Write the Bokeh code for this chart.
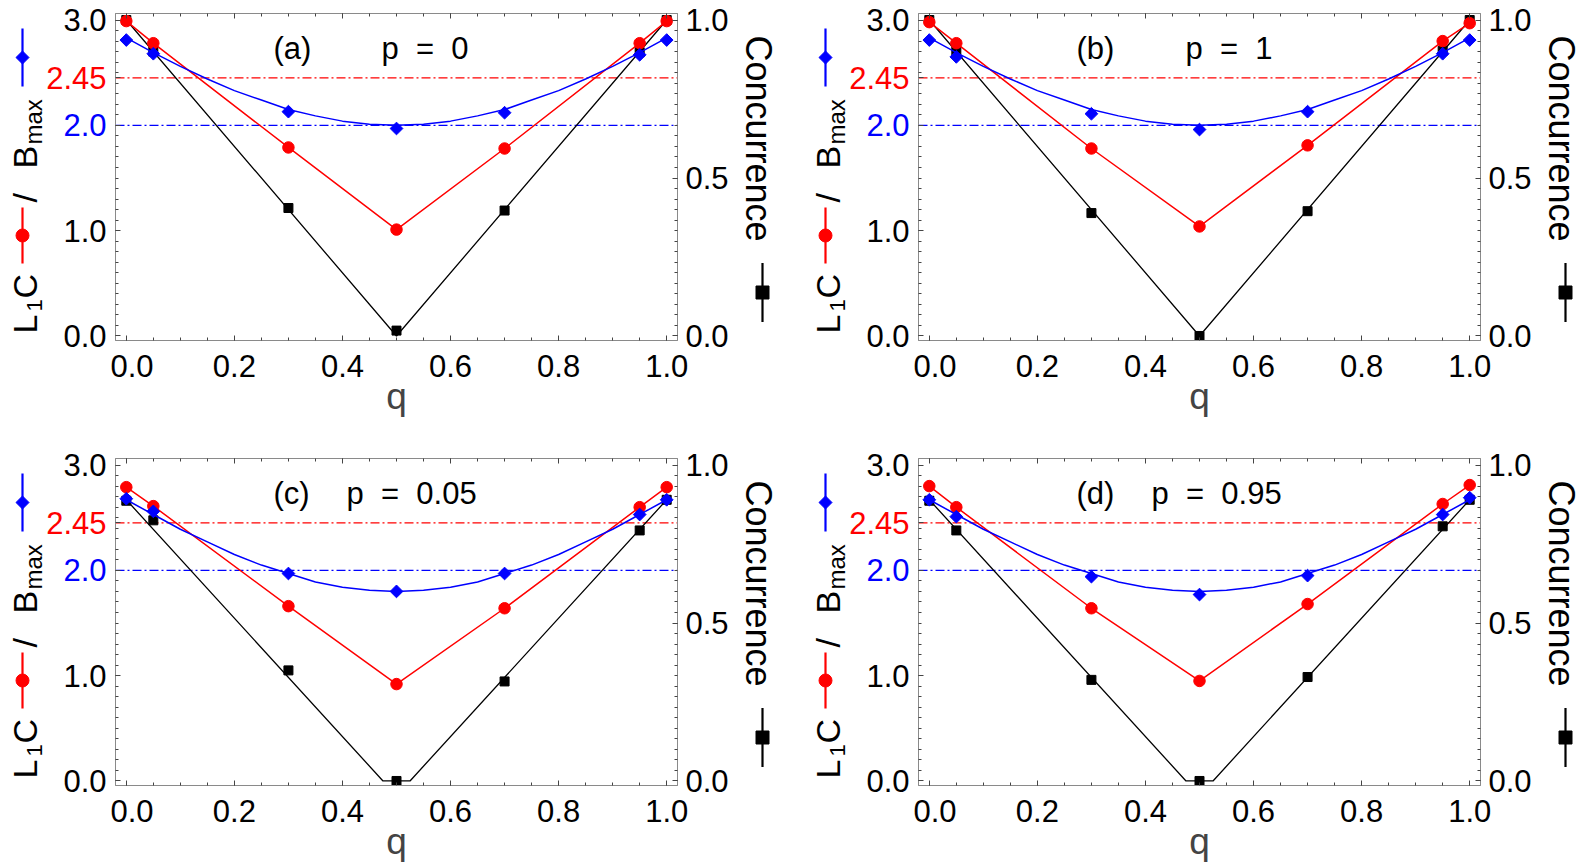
import math
from bokeh.plotting import figure
from bokeh.models import (Range1d, LinearAxis, FixedTicker, PrintfTickFormatter,
                          Span, Label)
from bokeh.core.properties import value
from bokeh.layouts import row, column
from bokeh.embed import file_html
from bokeh.resources import INLINE

# ---------------- data ----------------
q = [0.0, 0.05, 0.3, 0.5, 0.7, 0.95, 1.0]

bmax_a = [2.81, 2.68, 2.13, 1.97, 2.12, 2.67, 2.81]
l1c_a = [2.99, 2.78, 1.79, 1.01, 1.78, 2.78, 2.99]
conc_a = [1.00, 0.90, 0.405, 0.017, 0.397, 0.898, 1.00]

bmax_b = [2.81, 2.65, 2.11, 1.96, 2.13, 2.68, 2.81]
l1c_b = [2.98, 2.78, 1.78, 1.04, 1.81, 2.80, 2.97]
conc_b = [1.00, 0.90, 0.389, 0.0, 0.395, 0.903, 1.00]

bmax_c = [2.68, 2.56, 1.97, 1.80, 1.97, 2.53, 2.67]
l1c_c = [2.79, 2.61, 1.66, 0.92, 1.64, 2.60, 2.79]
conc_c = [0.887, 0.825, 0.35, 0.0, 0.315, 0.793, 0.89]

bmax_d = [2.67, 2.51, 1.94, 1.77, 1.95, 2.53, 2.69]
l1c_d = [2.80, 2.60, 1.64, 0.95, 1.68, 2.63, 2.81]
conc_d = [0.887, 0.793, 0.32, 0.0, 0.329, 0.806, 0.89]

# smooth B_max curves
q_curve = [0.0, 0.05, 0.1, 0.15, 0.2, 0.25, 0.3, 0.35, 0.4, 0.45, 0.5,
           0.55, 0.6, 0.65, 0.7, 0.75, 0.8, 0.85, 0.9, 0.95, 1.0]
bmax_curve_ab = [2.83, 2.69, 2.56, 2.44, 2.33, 2.24, 2.15, 2.09, 2.04, 2.01, 2.00,
                 2.01, 2.04, 2.09, 2.15, 2.24, 2.33, 2.44, 2.56, 2.69, 2.83]
bmax_curve_cd = [2.67, 2.53, 2.39, 2.27, 2.15, 2.05, 1.97, 1.89, 1.84, 1.81, 1.80,
                 1.81, 1.84, 1.89, 1.97, 2.05, 2.15, 2.27, 2.39, 2.53, 2.67]

# concurrence theory lines
q_conc_ab = [0.0, 0.5, 1.0]
conc_line_ab = [1.0, 0.0, 1.0]
q_conc_cd = [0.0, 0.475, 0.525, 1.0]
conc_line_cd = [0.89, 0.0, 0.0, 0.89]

l1c_threshold = 2.45
bmax_threshold = 2.0

panel_tags = ["(a)", "(b)", "(c)", "(d)"]
NB = "\u00a0"
panel_p = ["p" + NB * 2 + "=" + NB * 2 + "0", "p" + NB * 2 + "=" + NB * 2 + "1",
           "p" + NB * 2 + "=" + NB * 2 + "0.05", "p" + NB * 2 + "=" + NB * 2 + "0.95"]

x_ticks = [0.0, 0.2, 0.4, 0.6, 0.8, 1.0]
conc_ticks = [0.0, 0.5, 1.0]
left_tick_values = [0.0, 1.0, 2.0, 2.45, 3.0]
left_tick_labels = ["0.0", "1.0", "2.0", "2.45", "3.0"]
left_tick_colors = ["black", "black", "#0000ff", "#ff0000", "black"]

# ---------------- geometry / style ----------------
XR = (-0.02, 1.02)
YR = (-0.043, 3.062)
FW, FH = 562, 327
XS = FW / (XR[1] - XR[0])
YS = FH / (YR[1] - YR[0])
MB_L = 5      # main figure left border
MB_R = 60     # main figure right border

FONT = "Liberation Sans"
GRAY = "#8a8a8a"
RED = "#ff0000"
BLUE = "#0000ff"


def fx(px):
    return XR[0] + px / XS


def fy(py):
    """pixels up from the frame's bottom edge -> data y"""
    return YR[0] + py / YS


minor_x = [i * 0.05 for i in range(21)]
minor_y = [i * 0.1 for i in range(31)]
minor_c = [i / 30 for i in range(31)]


def style_axis(ax, ticker, labels=True):
    ax.ticker = ticker
    ax.formatter = PrintfTickFormatter(format="%.1f")
    ax.axis_line_color = GRAY
    ax.major_tick_line_color = "#444444"
    ax.minor_tick_line_color = "#444444"
    ax.major_tick_in = 5
    ax.major_tick_out = 0
    ax.minor_tick_in = 3
    ax.minor_tick_out = 0
    ax.major_label_text_font = FONT
    ax.major_label_text_color = "black"
    if labels:
        ax.major_label_text_font_size = "31px"
        ax.major_label_standoff = 14
    else:
        ax.major_label_text_font_size = "0px"
        ax.major_label_standoff = 0
        ax.major_label_text_alpha = 0


def side_fig(w, bt, bb):
    f = figure(frame_width=w, frame_height=FH,
               x_range=Range1d(0, w), y_range=Range1d(*YR),
               min_border_left=0, min_border_right=0,
               min_border_top=bt, min_border_bottom=bb,
               x_axis_location=None, y_axis_location=None,
               output_backend="svg", toolbar_location=None)
    f.outline_line_color = None
    f.grid.visible = False
    f.xgrid.grid_line_color = None
    f.ygrid.grid_line_color = None
    f.background_fill_color = "white"
    f.border_fill_color = "white"
    return f


def txt(f, x, py, s, size, color="black", angle=0.0, align="left", baseline="alphabetic"):
    f.text(x=[x], y=[fy(py)], text=[s], angle=angle, text_align=align,
           text_baseline=baseline, text_font=value(FONT),
           text_font_size=value(size), text_color=color, level="overlay")


def left_fig(w, bt, bb):
    f = side_fig(w, bt, bb)
    fl = w + MB_L  # x of main frame's left edge in this figure
    # tick labels of the left axis (two of them coloured)
    f.text(x=[fl - 9] * len(left_tick_values), y=left_tick_values, text=left_tick_labels,
           text_color=left_tick_colors, text_align="right", text_baseline="middle",
           text_font=value(FONT), text_font_size=value("31px"), level="overlay")
    up = math.pi / 2
    txt(f, fl - 91, 7, "L", "34px", angle=up)
    txt(f, fl - 81, 29, "1", "22px", angle=up)
    txt(f, fl - 91, 42, "C", "34px", angle=up)
    f.segment(x0=[fl - 93], y0=[fy(105 - 28)], x1=[fl - 93], y1=[fy(105 + 28)],
              line_color=RED, line_width=2.2)
    f.scatter(x=[fl - 93], y=[fy(105)], marker="circle", size=13,
              fill_color=RED, line_color=RED)
    txt(f, fl - 91, 138, "/", "34px", angle=up)
    txt(f, fl - 91, 172, "B", "34px", angle=up)
    txt(f, fl - 82, 196, "max", "24px", angle=up)
    f.segment(x0=[fl - 93], y0=[fy(283 - 29)], x1=[fl - 93], y1=[fy(283 + 29)],
              line_color=BLUE, line_width=2.2)
    f.scatter(x=[fl - 93], y=[fy(283)], marker="square", angle=math.pi / 4, size=9.2,
              fill_color=BLUE, line_color=BLUE)
    return f


def right_fig(w, bt, bb):
    f = side_fig(w, bt, bb)
    fr = -MB_R  # x of main frame's right edge in this figure
    txt(f, fr + 81, FH - 22, "Concurrence", "36px", angle=-math.pi / 2)
    f.segment(x0=[fr + 85], y0=[fy(48 - 29.5)], x1=[fr + 85], y1=[fy(48 + 29.5)],
              line_color="black", line_width=2.2)
    f.scatter(x=[fr + 85], y=[fy(48)], marker="square", size=13,
              fill_color="black", line_color="black")
    return f


def main_fig(bmax, l1c, conc, curve, qline, cline, tag, ptxt, p_dx, bt, bb):
    p = figure(frame_width=FW, frame_height=FH,
               min_border_left=MB_L, min_border_right=MB_R,
               min_border_top=bt, min_border_bottom=bb,
               x_range=Range1d(*XR), y_range=Range1d(*YR),
               output_backend="svg", toolbar_location=None)
    p.extra_y_ranges = {"conc": Range1d(YR[0] / 3.0, YR[1] / 3.0)}
    p.grid.visible = False
    p.outline_line_color = GRAY
    p.background_fill_color = "white"
    p.border_fill_color = "white"

    xb = p.xaxis[0]
    style_axis(xb, FixedTicker(ticks=x_ticks, minor_ticks=minor_x))
    xb.axis_label = "q"
    xb.axis_label_text_font = FONT
    xb.axis_label_text_font_size = "37px"
    xb.axis_label_text_font_style = "normal"
    xb.axis_label_standoff = -4
    style_axis(p.yaxis[0], FixedTicker(ticks=left_tick_values, minor_ticks=minor_y), labels=False)
    top = LinearAxis()
    style_axis(top, FixedTicker(ticks=x_ticks, minor_ticks=minor_x), labels=False)
    p.add_layout(top, "above")
    right = LinearAxis(y_range_name="conc")
    style_axis(right, FixedTicker(ticks=conc_ticks, minor_ticks=minor_c))
    right.major_label_standoff = 8
    p.add_layout(right, "right")

    # reference lines
    p.add_layout(Span(location=l1c_threshold, dimension="width", line_color=RED,
                      line_width=1.2, line_dash="9 3 2 3", level="underlay"))
    p.add_layout(Span(location=bmax_threshold, dimension="width", line_color=BLUE,
                      line_width=1.2, line_dash="9 3 2 3", level="underlay"))

    # concurrence (right axis)
    p.line(qline, cline, y_range_name="conc", line_color="black", line_width=1.3)
    p.scatter(q, conc, y_range_name="conc", marker="square", size=9,
              fill_color="black", line_color="black")
    # L1 coherence
    p.line(q, l1c, line_color=RED, line_width=1.5)
    p.scatter(q, l1c, marker="circle", size=11.5, fill_color=RED, line_color=RED)
    # B_max
    p.line(q_curve, curve, line_color=BLUE, line_width=1.5)
    p.scatter(q, bmax, marker="square", angle=math.pi / 4, size=9,
              fill_color=BLUE, line_color=BLUE)

    # panel annotation
    for s, dx in ((tag, 158), (ptxt, p_dx)):
        p.add_layout(Label(x=fx(dx), y=fy(FH - 35), text=s, text_align="left",
                           text_baseline="alphabetic", text_font=FONT,
                           text_font_size="31px", text_color="black"))
    return p


pa = main_fig(bmax_a, l1c_a, conc_a, bmax_curve_ab, q_conc_ab, conc_line_ab,
              panel_tags[0], panel_p[0], 266, 13, 100)
pb = main_fig(bmax_b, l1c_b, conc_b, bmax_curve_ab, q_conc_ab, conc_line_ab,
              panel_tags[1], panel_p[1], 267, 13, 100)
pc = main_fig(bmax_c, l1c_c, conc_c, bmax_curve_cd, q_conc_cd, conc_line_cd,
              panel_tags[2], panel_p[2], 231, 18, 81)
pd = main_fig(bmax_d, l1c_d, conc_d, bmax_curve_cd, q_conc_cd, conc_line_cd,
              panel_tags[3], panel_p[3], 233, 18, 81)

top_row = row(left_fig(110, 13, 100), pa, right_fig(53, 13, 100),
              left_fig(123, 13, 100), pb, right_fig(41, 13, 100))
bottom_row = row(left_fig(110, 18, 81), pc, right_fig(53, 18, 81),
                 left_fig(123, 18, 81), pd, right_fig(41, 18, 81))

layout = column(top_row, bottom_row)
open("out.html", "w").write(file_html(layout, INLINE))
